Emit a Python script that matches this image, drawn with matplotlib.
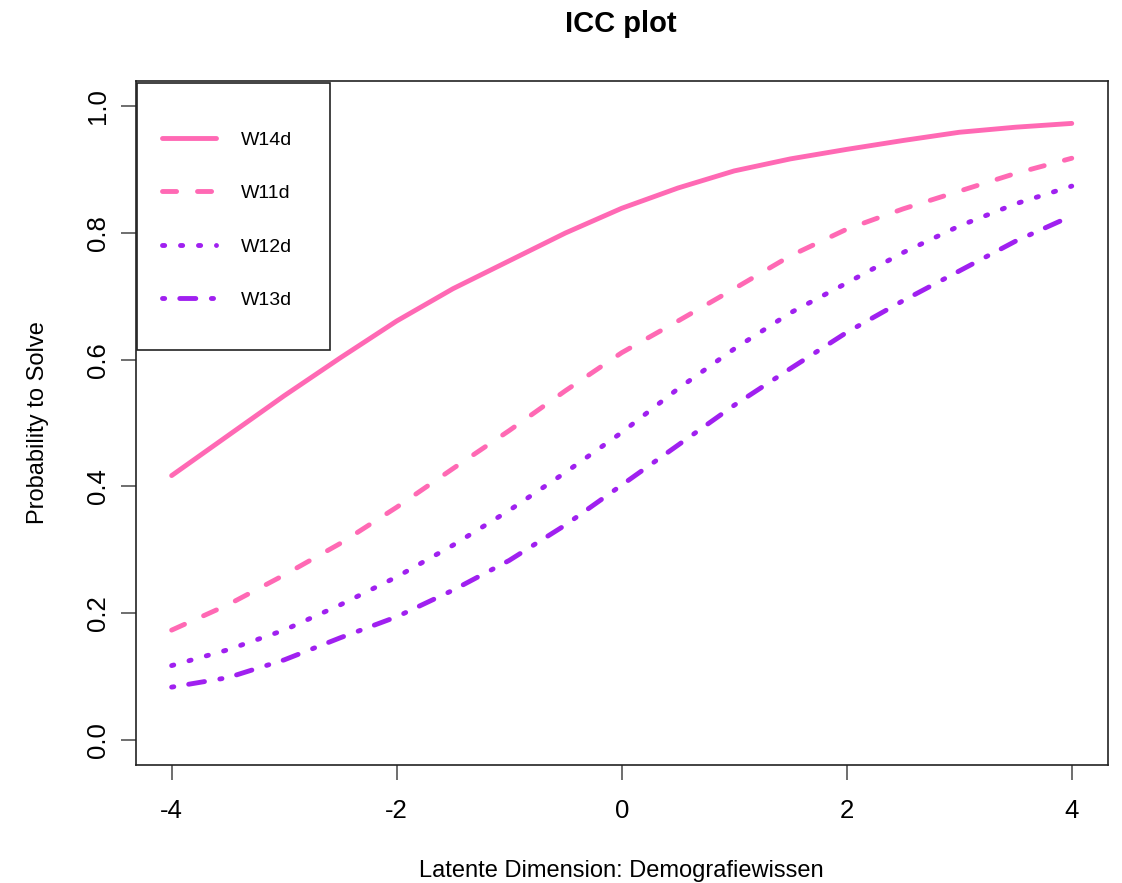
import numpy as np
import matplotlib
matplotlib.use('Agg')
import matplotlib.pyplot as plt
from matplotlib.patches import Rectangle

plt.rcParams['font.family'] = ['Liberation Sans', 'DejaVu Sans']
plt.rcParams['axes.unicode_minus'] = False

# latent dimension grid and item characteristic curves
theta = [-4, -3.5, -3, -2.5, -2, -1.5, -1, -0.5, 0, 0.5, 1, 1.5, 2, 2.5, 3, 3.5, 4]
w14d = [0.417, 0.480, 0.543, 0.603, 0.661, 0.712, 0.756, 0.800, 0.839,
        0.871, 0.898, 0.917, 0.932, 0.946, 0.959, 0.967, 0.973]
w11d = [0.173, 0.213, 0.260, 0.310, 0.367, 0.428, 0.488, 0.551, 0.611,
        0.661, 0.712, 0.764, 0.806, 0.838, 0.866, 0.894, 0.918]
w12d = [0.117, 0.142, 0.173, 0.213, 0.257, 0.307, 0.362, 0.422, 0.485,
        0.554, 0.617, 0.674, 0.721, 0.769, 0.811, 0.846, 0.874]
w13d = [0.083, 0.098, 0.126, 0.161, 0.194, 0.236, 0.283, 0.339, 0.402,
        0.465, 0.528, 0.586, 0.643, 0.693, 0.740, 0.787, 0.827]

items = ['W14d', 'W11d', 'W12d', 'W13d']
curves = [w14d, w11d, w12d, w13d]
colors = ['#FF69B4', '#FF69B4', '#A020F0', '#A020F0']
styles = ['-', (0, (2.9, 4.3)), (0, (0.45, 3.25)), (0, (0.45, 3.1, 3.3, 3.2))]

fig = plt.figure(figsize=(11.22, 8.83), dpi=100)
ax = fig.add_axes([0.1209, 0.1336, 0.8664, 0.7747])

for name, y, c, ls in zip(items, curves, colors, styles):
    ax.plot(theta, y, color=c, lw=3.5, linestyle=ls, label=name,
            dash_capstyle='round', solid_capstyle='round')

ax.set_xlim(-4.32, 4.32)
ax.set_ylim(-0.04, 1.04)
ax.set_xticks([-4, -2, 0, 2, 4])
ax.set_yticks([0.0, 0.2, 0.4, 0.6, 0.8, 1.0])
ax.set_yticklabels(['0.0', '0.2', '0.4', '0.6', '0.8', '1.0'], rotation=90, va='center')
ax.tick_params(axis='both', length=10.8, width=1.2, color='#555555', labelsize=18.5)
ax.tick_params(axis='x', pad=14)
ax.tick_params(axis='y', pad=8)
for s in ax.spines.values():
    s.set_linewidth(1.2)
    s.set_color('#222222')

ax.set_xlabel('Latente Dimension: Demografiewissen', fontsize=17, labelpad=26)
ax.set_ylabel('Probability to Solve', fontsize=17, labelpad=26)
fig.text(0.5535, 0.973, 'ICC plot', fontsize=21, fontweight='bold', ha='center', va='center')

# legend box like R's, frame drawn separately so the padding can differ per side
ax.add_patch(Rectangle((0.0013, 0.6067), 0.1986, 0.3904, transform=ax.transAxes,
                       facecolor='white', edgecolor='#222222', lw=1.2, zorder=4))
leg = ax.legend(loc='upper left', bbox_to_anchor=(0.0271, 0.927), frameon=False,
                fontsize=14, handlelength=2.8, handletextpad=1.25,
                labelspacing=1.85, borderpad=0, borderaxespad=0)
leg.set_zorder(5)

fig.savefig('out.png', dpi=100)
